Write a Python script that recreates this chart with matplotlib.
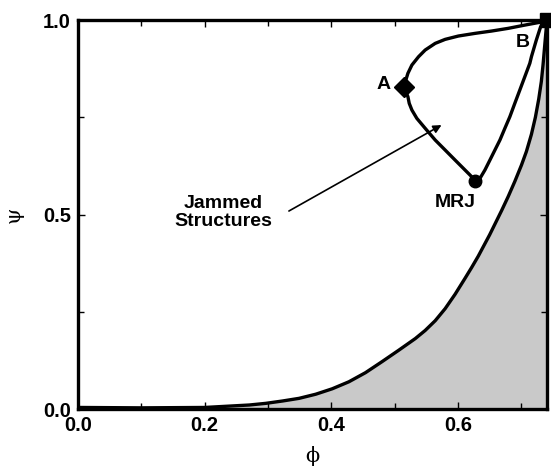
import matplotlib
matplotlib.use("Agg")
import matplotlib.pyplot as plt
from matplotlib.ticker import MultipleLocator

plt.rcParams["font.family"] = ["Liberation Sans", "DejaVu Sans"]

# lower boundary of the jammed region (gray area below it)
lower_phi = [0.0, 0.10, 0.20, 0.2704, 0.2967, 0.3229, 0.349, 0.3753, 0.4014, 0.4277,
             0.4539, 0.480, 0.5063, 0.5325, 0.5482, 0.564, 0.5797, 0.5954, 0.6111,
             0.6216, 0.632, 0.650, 0.6688, 0.6792, 0.6897, 0.7002, 0.708, 0.7159,
             0.7222, 0.7275, 0.7316, 0.7343, 0.7375, 0.7405]
lower_psi = [0.004, 0.003, 0.004, 0.0103, 0.0146, 0.0206, 0.0274, 0.038, 0.052, 0.070,
             0.0934, 0.1217, 0.151, 0.181, 0.202, 0.227, 0.258, 0.295, 0.336,
             0.364, 0.393, 0.448, 0.510, 0.546, 0.585, 0.627, 0.662, 0.706,
             0.750, 0.797, 0.842, 0.885, 0.945, 1.0]

# closed loop of jammed structures: B -> A -> MRJ -> B
loop_phi = [0.7405, 0.7343, 0.7055, 0.6792, 0.653, 0.6268, 0.6006, 0.5797, 0.564,
            0.5482, 0.5377, 0.5272, 0.5209, 0.5168, 0.514,
            0.5209, 0.523, 0.5272, 0.535, 0.5482, 0.564, 0.5797, 0.5954, 0.6111,
            0.6242, 0.6268,
            0.6347, 0.6425, 0.6504, 0.6583, 0.6662, 0.674, 0.6819, 0.6897, 0.6976,
            0.7055, 0.7134, 0.716, 0.7237, 0.7305, 0.7405]
loop_psi = [1.0, 0.9957, 0.987, 0.9786, 0.9717, 0.9657, 0.9589, 0.9503, 0.940,
            0.9229, 0.9057, 0.8843, 0.863, 0.8414, 0.8286,
            0.8029, 0.7858, 0.7686, 0.7472, 0.7216, 0.6915, 0.6658, 0.640, 0.6144,
            0.593, 0.587,
            0.593, 0.6144, 0.640, 0.6658, 0.6915, 0.7216, 0.7515, 0.7858, 0.820,
            0.8543, 0.8887, 0.906, 0.9486, 0.983, 1.0]

point_A = (0.514, 0.8286)
point_B = (0.7405, 1.0)
point_MRJ = (0.6268, 0.587)

fig = plt.figure(figsize=(5.51, 4.66), dpi=100)
ax = fig.add_axes([0.1416, 0.1223, 0.8511, 0.8347])

ax.fill_between(lower_phi, lower_psi, 0, color="#c9c9c9", lw=0)
ax.plot(lower_phi, lower_psi, color="black", lw=2.4, solid_joinstyle="round")
ax.plot(loop_phi, loop_psi, color="black", lw=2.4, solid_joinstyle="round")

ax.plot(*point_A, marker="D", ms=10, color="black")
ax.plot(*point_MRJ, marker="o", ms=9, color="black")
ax.plot(*point_B, marker="s", ms=10, color="black", clip_on=False)

ax.text(0.4827, 0.833, "A", fontsize=14, fontweight="bold", ha="center", va="center")
ax.text(0.703, 0.943, "B", fontsize=14, fontweight="bold", ha="center", va="center")
ax.text(0.596, 0.532, "MRJ", fontsize=14, fontweight="bold", ha="center", va="center")
ax.text(0.230, 0.506, "Jammed\nStructures", fontsize=14, fontweight="bold",
        ha="center", va="center", linespacing=1.05)
ax.annotate("", xy=(0.574, 0.730), xytext=(0.333, 0.509),
            arrowprops=dict(arrowstyle="-|>", color="black", lw=1.2,
                            mutation_scale=12, shrinkA=0, shrinkB=0))

ax.set_xlim(0, 0.7405)
ax.set_ylim(0, 1.0)
ax.set_xticks([0.0, 0.2, 0.4, 0.6])
ax.set_xticklabels(["0.0", "0.2", "0.4", "0.6"])
ax.set_yticks([0.0, 0.5, 1.0])
ax.set_yticklabels(["0.0", "0.5", "1.0"])
ax.xaxis.set_minor_locator(MultipleLocator(0.1))
ax.yaxis.set_minor_locator(MultipleLocator(0.25))
ax.tick_params(which="both", direction="in", top=True, right=True, width=1)
ax.tick_params(which="major", length=5, labelsize=14.5, pad=5)
ax.tick_params(which="minor", length=4)
for lab in ax.get_xticklabels() + ax.get_yticklabels():
    lab.set_fontweight("bold")
for sp in ax.spines.values():
    sp.set_linewidth(2.4)

ax.set_xlabel("\u03d5", fontsize=15, family=["DejaVu Serif"], labelpad=8)
ax.set_ylabel("\u03c8", fontsize=15, family=["DejaVu Serif"], rotation=90, labelpad=14)

fig.savefig("out.png", dpi=100)
